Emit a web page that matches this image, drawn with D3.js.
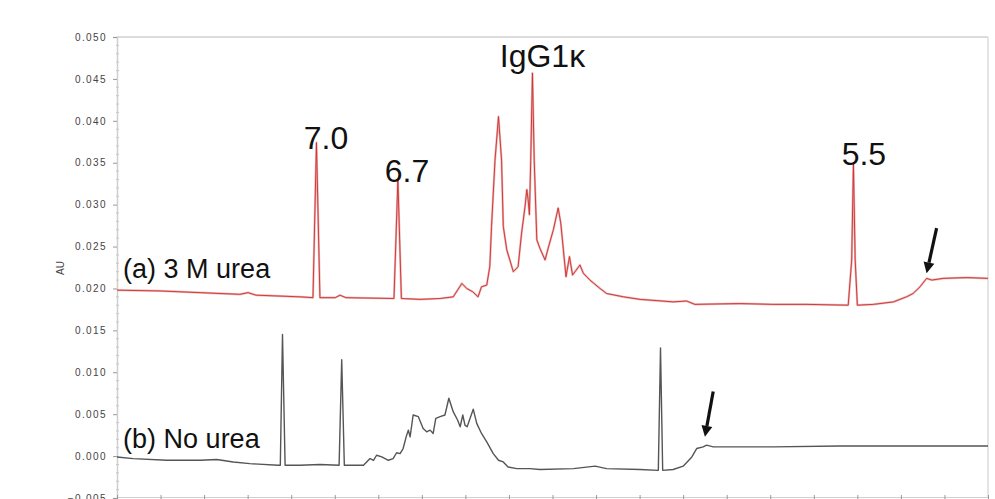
<!DOCTYPE html>
<html><head><meta charset="utf-8">
<script src="https://cdn.jsdelivr.net/npm/d3@7"></script>
<style>
html,body{margin:0;padding:0;background:#fff;}
svg{display:block;font-family:"Liberation Sans",Arial,sans-serif;}
</style></head>
<body>
<script>
// ---- data (time in min, absorbance in AU) ----
const yTicks = [-0.005,0,0.005,0.010,0.015,0.020,0.025,0.030,0.035,0.040,0.045,0.050];
const xTicks = d3.range(0, 21, 1);
const traceA_t = [0,0.99,1.91,2.82,3.01,3.19,4.20,4.50,4.58,4.66,5.01,5.12,5.26,6.36,6.45,6.53,6.96,7.42,7.72,7.92,8.03,8.17,8.29,8.37,8.49,8.56,8.60,8.68,8.76,8.83,8.87,8.95,9.02,9.10,9.21,9.29,9.37,9.41,9.44,9.47,9.50,9.54,9.58,9.64,9.71,9.83,9.90,10.02,10.13,10.19,10.25,10.31,10.39,10.46,10.63,10.71,10.86,11.09,11.24,11.63,12.01,12.77,13.08,13.27,14.30,15.06,15.84,16.79,16.87,16.91,16.95,17.00,17.37,17.83,18.13,18.28,18.44,18.59,18.71,18.97,19.51,20.00];
const traceA_v = [0.0198,0.0197,0.0195,0.0193,0.0195,0.0192,0.0190,0.0189,0.0374,0.0189,0.0189,0.0192,0.0189,0.0188,0.0330,0.0188,0.0187,0.0188,0.0190,0.0206,0.0200,0.0196,0.0190,0.0202,0.0204,0.0226,0.0274,0.0353,0.0405,0.0353,0.0274,0.0246,0.0234,0.0220,0.0226,0.0266,0.0298,0.0318,0.0306,0.0288,0.0353,0.0457,0.0353,0.0258,0.0248,0.0234,0.0248,0.0270,0.0296,0.0278,0.0246,0.0214,0.0238,0.0216,0.0228,0.0218,0.0210,0.0200,0.0194,0.0190,0.0187,0.0184,0.0185,0.0181,0.0182,0.0181,0.0181,0.0180,0.0234,0.0349,0.0234,0.0180,0.0181,0.0184,0.0190,0.0194,0.0202,0.0212,0.0210,0.0212,0.0213,0.0212];
const traceB_t = [0,0.37,1.14,1.91,2.29,2.67,3.05,3.70,3.75,3.80,3.86,4.20,4.66,5.10,5.16,5.22,5.66,5.81,5.89,5.96,6.08,6.23,6.34,6.42,6.50,6.57,6.64,6.69,6.73,6.80,6.92,7.03,7.11,7.19,7.26,7.32,7.42,7.53,7.62,7.72,7.82,7.88,7.94,7.99,8.04,8.18,8.26,8.37,8.49,8.64,8.76,8.87,8.98,9.18,9.48,9.71,10.48,10.98,11.24,12.01,12.43,12.48,12.53,12.77,13.00,13.20,13.31,13.46,13.54,13.69,15.07,16.60,20.00];
const traceB_v = [-0.0001,-0.0003,-0.0005,-0.0005,-0.0004,-0.0007,-0.0009,-0.0011,-0.0011,0.0145,-0.0011,-0.0011,-0.0010,-0.0011,0.0115,-0.0011,-0.0011,-0.0003,-0.0005,0.0001,-0.0001,-0.0005,-0.0003,0.0004,0.0003,0.0009,0.0023,0.0031,0.0023,0.0049,0.0047,0.0033,0.0029,0.0031,0.0027,0.0045,0.0047,0.0049,0.0069,0.0053,0.0043,0.0035,0.0049,0.0037,0.0035,0.0056,0.0039,0.0027,0.0017,0.0003,-0.0005,-0.0007,-0.0013,-0.0015,-0.0015,-0.0016,-0.0015,-0.0012,-0.0015,-0.0016,-0.0017,0.0129,-0.0017,-0.0016,-0.0012,-0.0001,0.0009,0.0011,0.0013,0.0011,0.0011,0.0012,0.0012];
const peakLabels = ["7.0","6.7","IgG1κ","5.5"];
const peakLabel_t = [4.80,6.66,9.77,17.15];
const peakLabel_v = [0.0366,0.0327,0.0464,0.0347];
const traceLabels = ["(a) 3 M urea","(b) No urea"];
const traceLabel_t = [0.14,0.14];
const traceLabel_v = [0.0212,0.0010];
const arrowTail_t = [18.82,13.69], arrowTail_v = [0.0272,0.0077];
const arrowHead_t = [18.59,13.50], arrowHead_v = [0.0218,0.0023];

// ---- layout ----
const W = 995, H = 499;
const m = {left:117, right:7, top:37, bottom:1};
const svg = d3.select("body").append("svg").attr("width",W).attr("height",H);
const x = d3.scaleLinear().domain([0,20]).range([m.left, W-m.right]);
const y = d3.scaleLinear().domain([-0.005,0.05]).range([H-m.bottom, m.top]);

// frame (top / right)
svg.append("line").attr("x1",x(0)).attr("x2",x(20)).attr("y1",y(0.05)).attr("y2",y(0.05))
  .attr("stroke","#dcdcdc").attr("stroke-width",2);
svg.append("line").attr("x1",x(20)).attr("x2",x(20)).attr("y1",y(0.05)).attr("y2",y(-0.005))
  .attr("stroke","#dcdcdc").attr("stroke-width",1.5);

// y axis
const yAxis = d3.axisLeft(y).tickValues(yTicks).tickSize(4).tickPadding(6)
  .tickFormat(d3.format(".3f"));
const gy = svg.append("g").attr("transform",`translate(${m.left},0)`).call(yAxis);
gy.select(".domain").attr("stroke","#cfcfcf").attr("stroke-width",1.5);
gy.selectAll(".tick line").attr("stroke","#999");
gy.selectAll(".tick text").attr("fill","#444").attr("font-size",10)
  .attr("letter-spacing","1.4px").attr("font-family","Liberation Sans, Arial, sans-serif");
// minor ticks
const minor = d3.range(-0.005,0.0501,0.001).filter(v=>Math.abs(Math.round(v*200)-v*200)>1e-6);
svg.append("g").selectAll("line").data(minor).join("line")
  .attr("x1",m.left-1).attr("x2",m.left+2).attr("y1",d=>y(d)).attr("y2",d=>y(d))
  .attr("stroke","#c8c8c8");

// x axis (labels fall below the window)
const xAxis = d3.axisBottom(x).tickValues(xTicks).tickSize(4).tickFormat("");
const gx = svg.append("g").attr("transform",`translate(0,${y(-0.005)-1})`).call(xAxis);
gx.select(".domain").attr("stroke","#cfcfcf");
gx.selectAll(".tick line").attr("stroke","#999").attr("y1",-2);

// AU label
svg.append("text").attr("transform",`translate(64,268) rotate(-90)`)
  .attr("text-anchor","middle").attr("font-size",10).attr("fill","#444").text("AU");

// traces
const line = d3.line().x(d=>x(d[0])).y(d=>y(d[1]));
const dataA = traceA_t.map((t,i)=>[t,traceA_v[i]]);
const dataB = traceB_t.map((t,i)=>[t,traceB_v[i]]);
svg.append("path").datum(dataA).attr("d",line).attr("fill","none")
  .attr("stroke","#e6b8b8").attr("stroke-width",2.2).attr("stroke-linejoin","round");
svg.append("path").datum(dataA).attr("d",line).attr("fill","none")
  .attr("stroke","#d42a2a").attr("stroke-width",0.9).attr("stroke-linejoin","round");
svg.append("path").datum(dataB).attr("d",line).attr("fill","none")
  .attr("stroke","#555").attr("stroke-width",1.4).attr("stroke-linejoin","round");

// labels
svg.append("g").selectAll("text").data(peakLabels).join("text")
  .attr("x",(d,i)=>x(peakLabel_t[i])).attr("y",(d,i)=>y(peakLabel_v[i]))
  .attr("text-anchor","middle").attr("font-size",32).attr("fill","#111").text(d=>d);
svg.append("g").selectAll("text").data(traceLabels).join("text")
  .attr("x",(d,i)=>x(traceLabel_t[i])).attr("y",(d,i)=>y(traceLabel_v[i]))
  .attr("font-size",27).attr("fill","#111").text(d=>d);

// arrows
arrowTail_t.forEach((t,i)=>{
  const x1=x(t), y1=y(arrowTail_v[i]), x2=x(arrowHead_t[i]), y2=y(arrowHead_v[i]);
  const ang=Math.atan2(y2-y1,x2-x1), L=11, hw=5.5;
  const bx=x2-L*Math.cos(ang), by=y2-L*Math.sin(ang);
  svg.append("line").attr("x1",x1).attr("y1",y1).attr("x2",bx).attr("y2",by)
    .attr("stroke","#111").attr("stroke-width",3.2);
  const px=-Math.sin(ang), py=Math.cos(ang);
  svg.append("path").attr("d",`M${x2},${y2}L${bx+px*hw},${by+py*hw}L${bx-px*hw},${by-py*hw}Z`)
    .attr("fill","#111");
});
</script>
</body></html>
